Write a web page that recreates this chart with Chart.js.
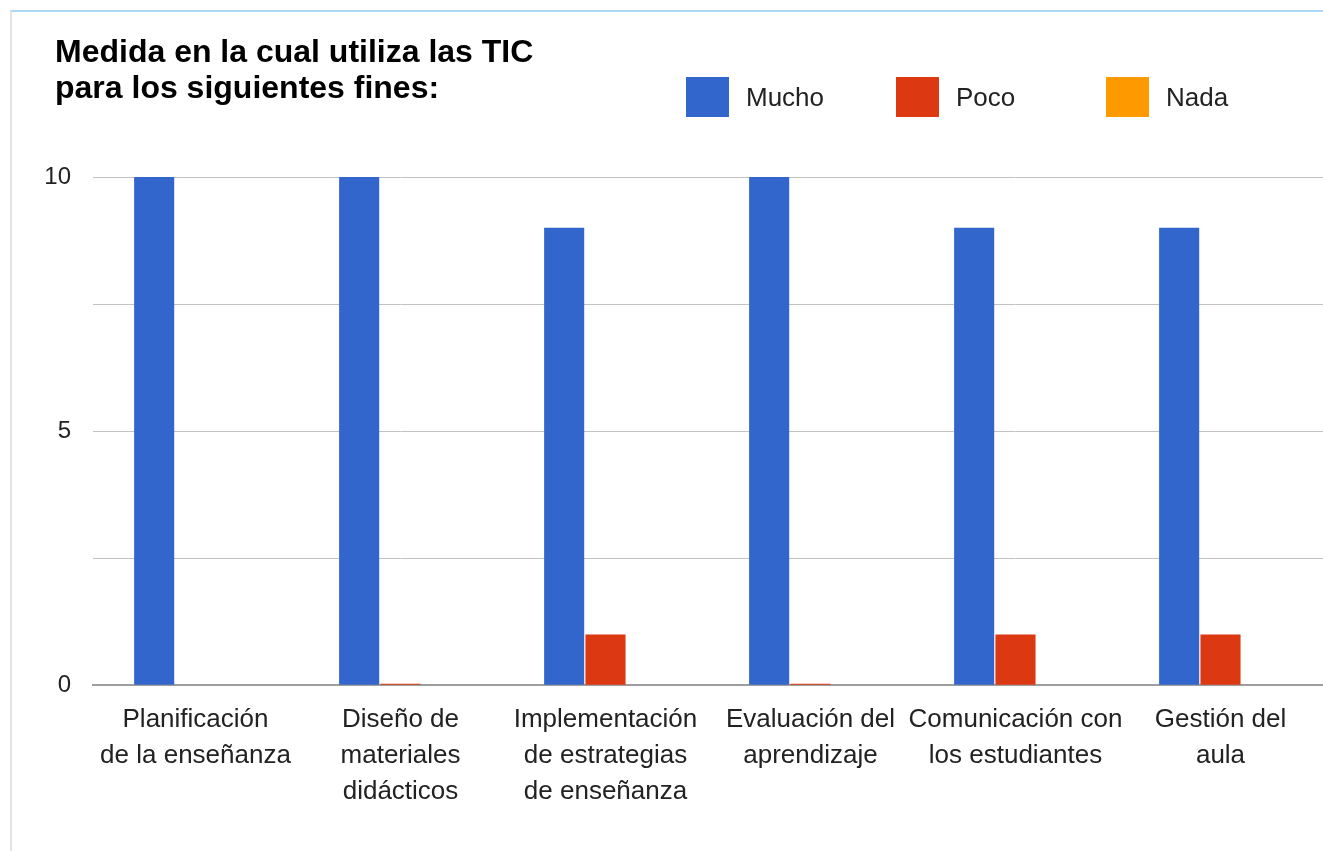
<!DOCTYPE html>
<html lang="es">
<head>
<meta charset="utf-8">
<title>Medida en la cual utiliza las TIC</title>
<script src="https://cdn.jsdelivr.net/npm/chart.js@4.4.1/dist/chart.umd.min.js"></script>
<style>
  html, body { margin: 0; padding: 0; background: #fff; }
  #marco { position: absolute; left: 10px; top: 10px; right: 0; bottom: 0;
           border-top: 2px solid #a9d8f2; border-left: 2px solid #e3e3e3; }
  #lienzo { position: absolute; left: 0; top: 0; width: 1323px; height: 851px; }
</style>
</head>
<body>
<div id="marco"></div>
<div id="lienzo"><canvas id="grafico"></canvas></div>
<script>
// Datos
var titulo = ["Medida en la cual utiliza las TIC", "para los siguientes fines:"];
var categorias = [
  ["Planificación", "de la enseñanza"],
  ["Diseño de", "materiales", "didácticos"],
  ["Implementación", "de estrategias", "de enseñanza"],
  ["Evaluación del", "aprendizaje"],
  ["Comunicación con", "los estudiantes"],
  ["Gestión del", "aula"]
];
var series = ["Mucho", "Poco", "Nada"];
var mucho = [10, 10, 9, 10, 9, 9];
var poco = [0, 0.03, 1, 0.03, 1, 1];
var nada = [0, 0, 0, 0, 0, 0];
var colores = ["#3366cc", "#dc3912", "#ff9900"];
var marcasY = [0, 5, 10];

Chart.defaults.font.family = '"Liberation Sans", Arial, sans-serif';
Chart.defaults.color = '#222';

// Titulo y leyenda dibujados arriba, como en el original
var encabezado = {
  id: 'encabezado',
  afterDraw: function(chart) {
    var ctx = chart.ctx;
    ctx.save();
    ctx.textBaseline = 'middle';
    ctx.fillStyle = '#000';
    ctx.font = 'bold 32px "Liberation Sans", Arial, sans-serif';
    titulo.forEach(function(linea, i) {
      ctx.fillText(linea, 55, 53 + i * 36);
    });
    ctx.font = '26px "Liberation Sans", Arial, sans-serif';
    chart.data.datasets.forEach(function(ds, i) {
      var x = 686 + i * 210;
      ctx.fillStyle = ds.backgroundColor;
      ctx.fillRect(x, 77, 43, 40);
      ctx.fillStyle = '#222';
      ctx.fillText(ds.label, x + 60, 99);
    });
    ctx.restore();
  }
};

var ctx = document.getElementById('grafico').getContext('2d');
var grafico = new Chart(ctx, {
  type: 'bar',
  data: {
    labels: categorias,
    datasets: [
      { label: series[0], data: mucho, backgroundColor: colores[0] },
      { label: series[1], data: poco, backgroundColor: colores[1] },
      { label: series[2], data: nada, backgroundColor: colores[2] }
    ]
  },
  options: {
    responsive: true,
    maintainAspectRatio: false,
    animation: false,
    categoryPercentage: 0.605,
    barPercentage: 0.97,
    layout: { padding: { left: 45, right: 0, top: 177, bottom: 24 } },
    plugins: {
      legend: { display: false },
      title: { display: false }
    },
    scales: {
      x: {
        z: 1,
        grid: { display: false, drawTicks: false },
        border: { color: '#9e9e9e', width: 2 },
        ticks: {
          autoSkip: false,
          maxRotation: 0,
          padding: 17,
          color: '#222',
          font: { size: 26, lineHeight: 1.38 }
        },
        // las etiquetas anchas no deben empujar el area del grafico
        afterFit: function(s) { s.paddingLeft = 0; s.paddingRight = 0; }
      },
      y: {
        min: 0,
        max: 10,
        border: { display: false },
        grid: {
          drawTicks: false,
          color: function(c) { return c.tick.value === 0 ? 'rgba(0,0,0,0)' : '#c2c2c2'; }
        },
        ticks: {
          stepSize: 2.5,
          padding: 22,
          color: '#222',
          font: { size: 24 },
          callback: function(v) { return marcasY.indexOf(v) >= 0 ? v : ''; }
        },
        afterFit: function(s) { s.width = 48; }
      }
    }
  },
  plugins: [encabezado]
});
</script>
</body>
</html>
